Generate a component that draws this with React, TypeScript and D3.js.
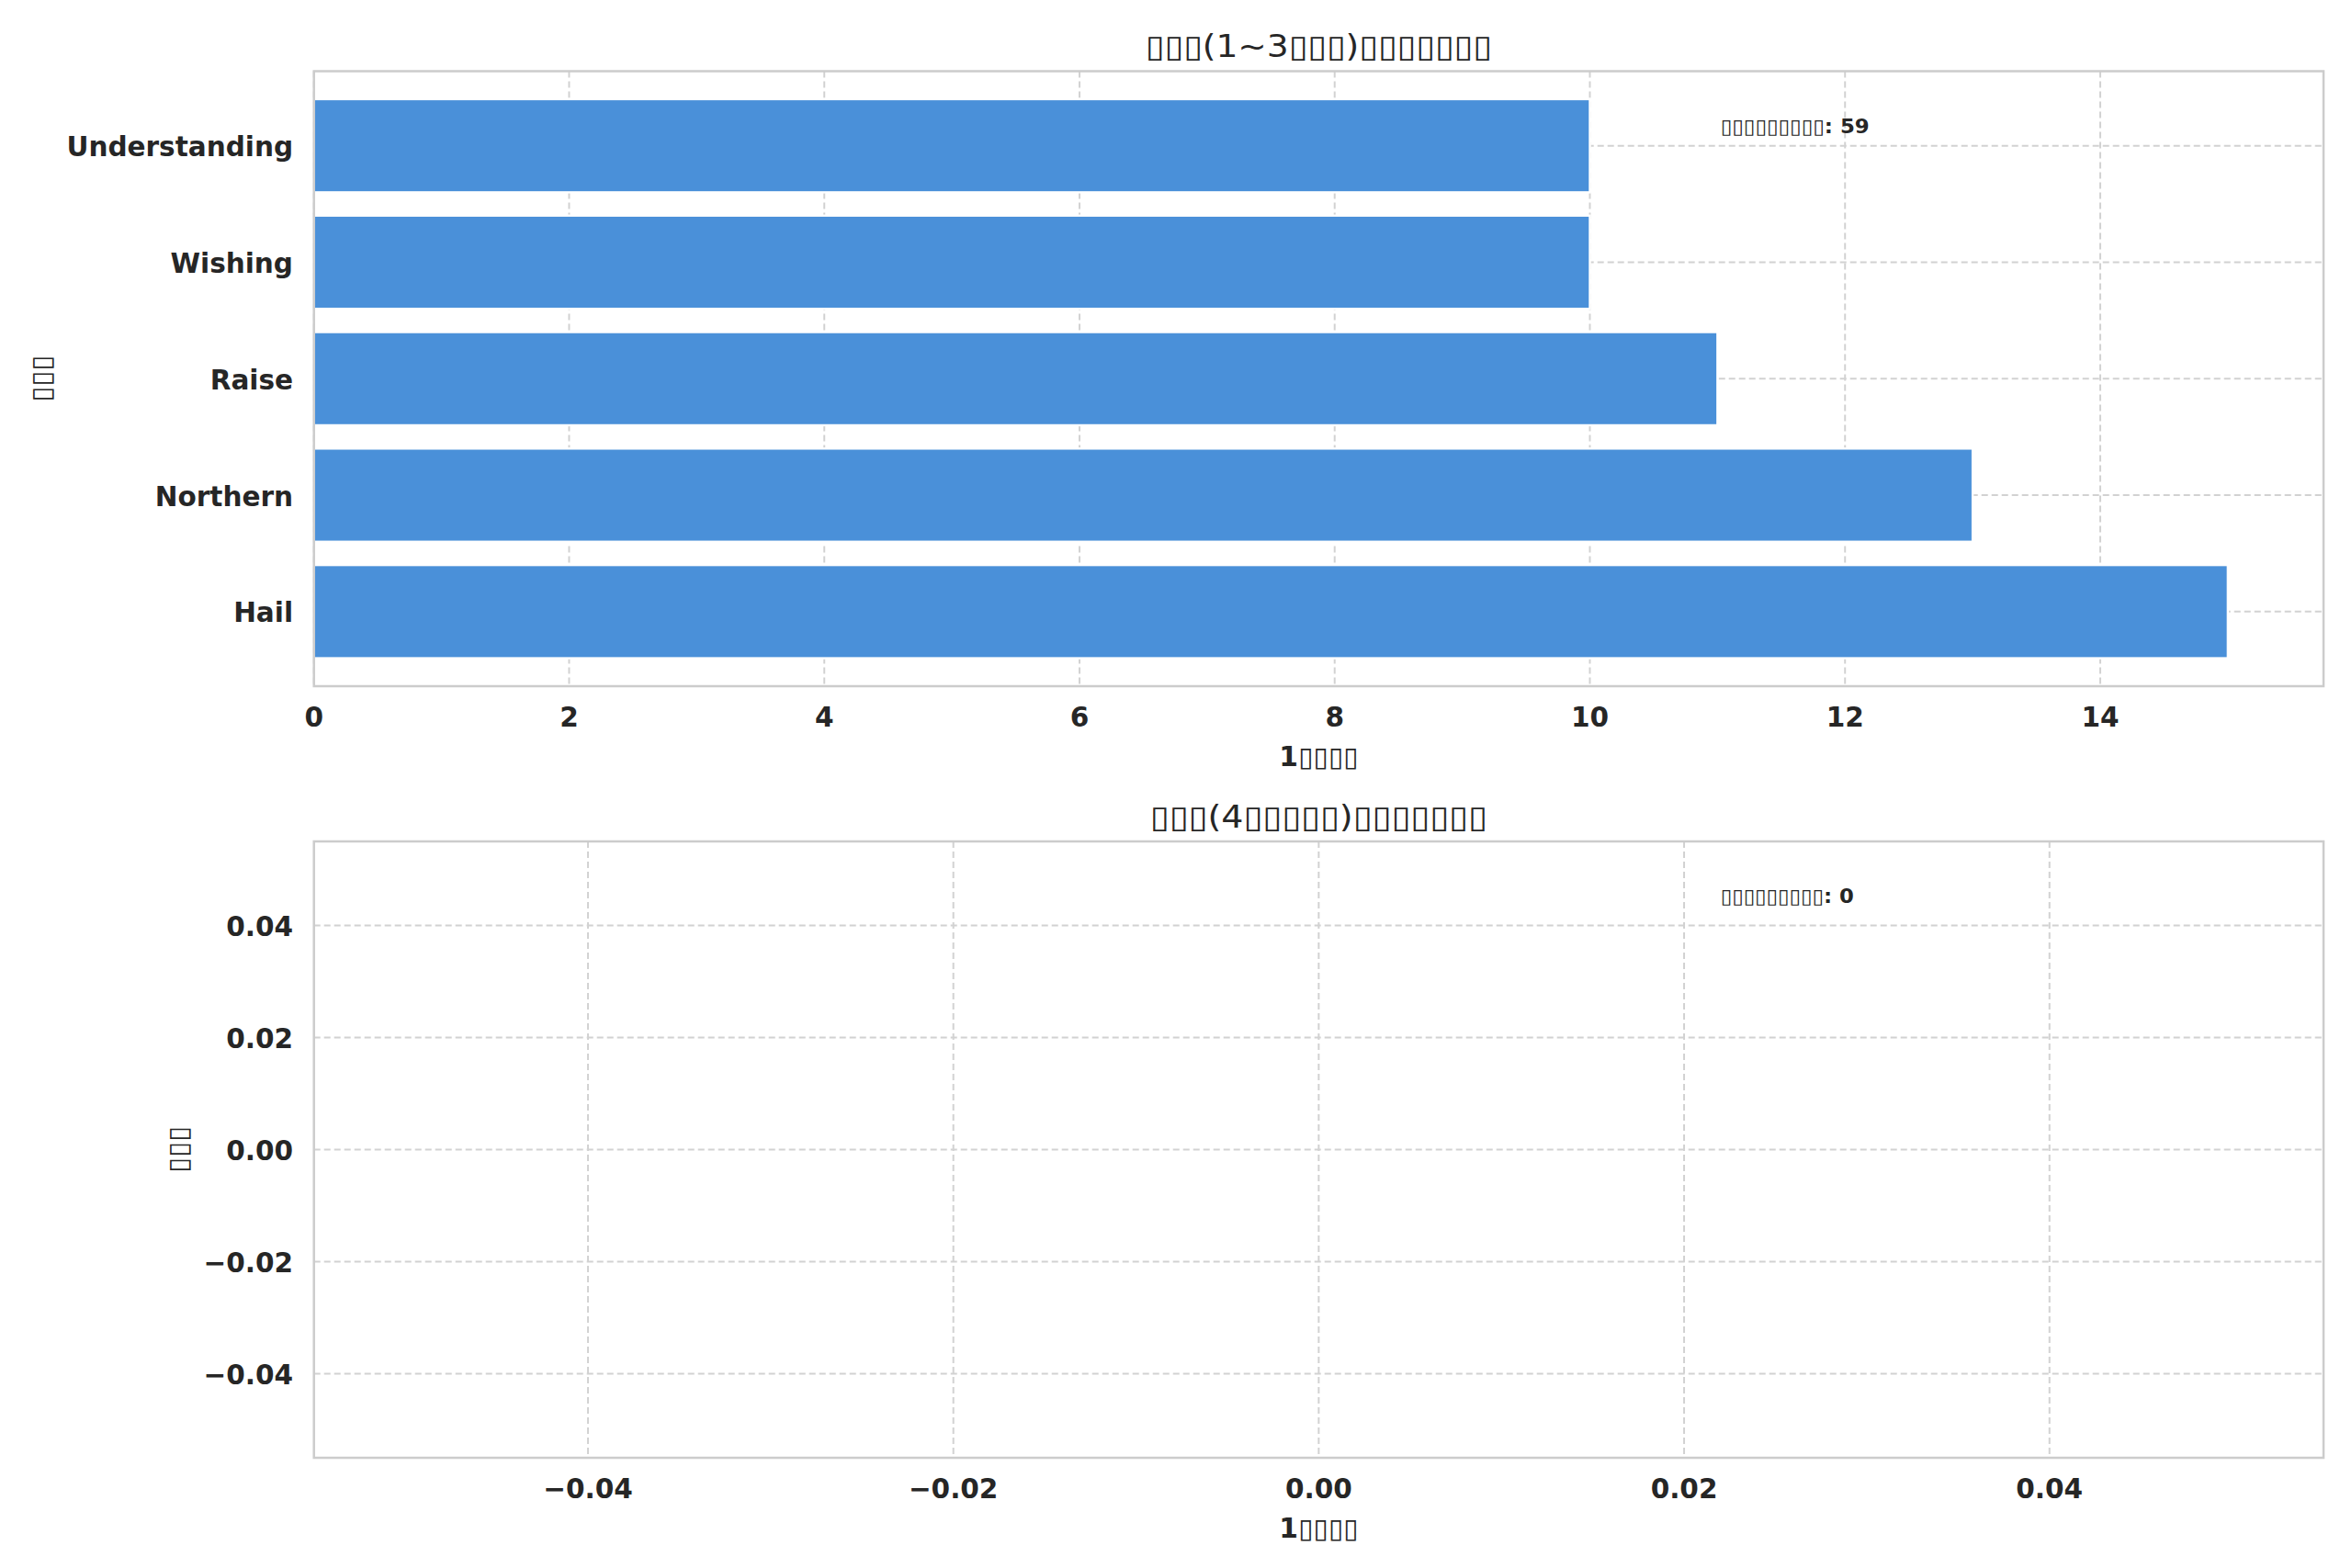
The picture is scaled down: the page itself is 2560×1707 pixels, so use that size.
import React from 'react';
import * as d3 from 'd3';

// ---- data (bottom to top, as drawn) ----
const categories = ['Hail', 'Northern', 'Raise', 'Wishing', 'Understanding'];
const counts = [15, 13, 11, 10, 10];
const topXTicks = [0, 2, 4, 6, 8, 10, 12, 14];
const emptyXTicks = [-0.04, -0.02, 0, 0.02, 0.04];
const emptyYTicks = [-0.04, -0.02, 0, 0.02, 0.04];
const emptyCategories: string[] = [];
const emptyCounts: number[] = [];
const titleTop = '▯▯▯(1~3▯▯▯)▯▯▯▯▯▯▯';
const titleBottom = '▯▯▯(4▯▯▯▯▯)▯▯▯▯▯▯▯';
const xLabel = '1▯▯▯▯';
const yLabel = '▯▯▯';
const notePrefix = '▯▯▯▯▯▯▯▯▯';

const W = 2560;
const H = 1707;
const FONT = '"DejaVu Sans", "Liberation Sans", sans-serif';
const TEXT = '#262626';
const GRID = '#d2d2d2';
const SPINE = '#cccccc';
const BAR = '#4a90d9';
const TICK_FS = 29.5;

const left = 341.7;
const right = 2529;
const top1 = 77.5, bot1 = 747;
const top2 = 916, bot2 = 1587;

export default function App() {
  const x1 = d3.scaleLinear().domain([0, d3.max(counts)! * 1.05]).range([left, right]);
  const y1 = d3.scaleLinear().domain([-0.64, categories.length - 1 + 0.64]).range([bot1, top1]);
  const x2 = d3.scaleLinear().domain([-0.055, 0.055]).range([left, right]);
  const y2 = d3.scaleLinear().domain([-0.055, 0.055]).range([bot2, top2]);
  const fmt = d3.format('.2f');
  const barH = Math.abs(y1(0.8) - y1(0));
  const total1 = d3.sum(counts);
  const total2 = d3.sum(emptyCounts);

  const dash = '7,4';

  return (
    <svg width={W} height={H} style={{ position: 'absolute', left: 0, top: 0, background: '#fff' }}
      fontFamily={FONT}>
      <rect x={0} y={0} width={W} height={H} fill="#fff" />
      {/* ---------- TOP PANEL ---------- */}
      <g>
        {topXTicks.map(t => (
          <line key={'gx' + t} x1={x1(t)} x2={x1(t)} y1={top1} y2={bot1} stroke={GRID} strokeWidth={2} strokeDasharray={dash} />
        ))}
        {categories.map((c, i) => (
          <line key={'gy' + c} x1={left} x2={right} y1={y1(i)} y2={y1(i)} stroke={GRID} strokeWidth={2} strokeDasharray={dash} />
        ))}
        {categories.map((c, i) => (
          <rect key={'b' + c} x={x1(0)} y={y1(i) - barH / 2} width={x1(counts[i]) - x1(0)} height={barH}
            fill={BAR} stroke="#fff" strokeWidth={2.4} />
        ))}
        <rect x={left} y={top1} width={right - left} height={bot1 - top1} fill="none" stroke={SPINE} strokeWidth={2.5} />
        {topXTicks.map(t => (
          <text key={'tx' + t} x={x1(t)} y={791} textAnchor="middle" fontSize={TICK_FS} fontWeight="bold" fill={TEXT}>{t}</text>
        ))}
        {categories.map((c, i) => (
          <text key={'ty' + c} x={319} y={y1(i) + 11.5} textAnchor="end" fontSize={TICK_FS} fontWeight="bold" fill={TEXT}>{c}</text>
        ))}
        <text x={(left + right) / 2} y={62} textAnchor="middle" fontSize={34} fill={TEXT} textLength={377} lengthAdjust="spacingAndGlyphs">{titleTop}</text>
        <text x={(left + right) / 2} y={834} textAnchor="middle" fontSize={TICK_FS} fontWeight="bold" fill={TEXT} textLength={86} lengthAdjust="spacingAndGlyphs">{xLabel}</text>
        <text transform={`translate(55,${(top1 + bot1) / 2}) rotate(-90)`} textAnchor="middle" fontSize={TICK_FS} fontWeight="bold" fill={TEXT} textLength={51} lengthAdjust="spacingAndGlyphs">{yLabel}</text>
        <text x={1872.7} y={145} fontSize={21.5} fontWeight="bold" fill={TEXT} textLength={162} lengthAdjust="spacingAndGlyphs">{`${notePrefix}: ${total1}`}</text>
      </g>

      {/* ---------- BOTTOM PANEL ---------- */}
      <g>
        {emptyXTicks.map(t => (
          <line key={'gx2' + t} x1={x2(t)} x2={x2(t)} y1={top2} y2={bot2} stroke={GRID} strokeWidth={2} strokeDasharray={dash} />
        ))}
        {emptyYTicks.map(t => (
          <line key={'gy2' + t} x1={left} x2={right} y1={y2(t)} y2={y2(t)} stroke={GRID} strokeWidth={2} strokeDasharray={dash} />
        ))}
        {emptyCategories.map((c, i) => (
          <rect key={'b2' + c} x={x2(0)} y={y2(i)} width={0} height={0} fill={BAR} />
        ))}
        <rect x={left} y={top2} width={right - left} height={bot2 - top2} fill="none" stroke={SPINE} strokeWidth={2.5} />
        {emptyXTicks.map(t => (
          <text key={'tx2' + t} x={x2(t)} y={bot2 + 44} textAnchor="middle" fontSize={TICK_FS} fontWeight="bold" fill={TEXT}>{fmt(t)}</text>
        ))}
        {emptyYTicks.map(t => (
          <text key={'ty2' + t} x={319} y={y2(t) + 11.5} textAnchor="end" fontSize={TICK_FS} fontWeight="bold" fill={TEXT}>{fmt(t)}</text>
        ))}
        <text x={(left + right) / 2} y={901} textAnchor="middle" fontSize={34} fill={TEXT} textLength={367} lengthAdjust="spacingAndGlyphs">{titleBottom}</text>
        <text x={(left + right) / 2} y={bot2 + 87} textAnchor="middle" fontSize={TICK_FS} fontWeight="bold" fill={TEXT} textLength={86} lengthAdjust="spacingAndGlyphs">{xLabel}</text>
        <text transform={`translate(204,${(top2 + bot2) / 2}) rotate(-90)`} textAnchor="middle" fontSize={TICK_FS} fontWeight="bold" fill={TEXT} textLength={51} lengthAdjust="spacingAndGlyphs">{yLabel}</text>
        <text x={1872.7} y={983} fontSize={21.5} fontWeight="bold" fill={TEXT} textLength={145} lengthAdjust="spacingAndGlyphs">{`${notePrefix}: ${total2}`}</text>
      </g>
    </svg>
  );
}
